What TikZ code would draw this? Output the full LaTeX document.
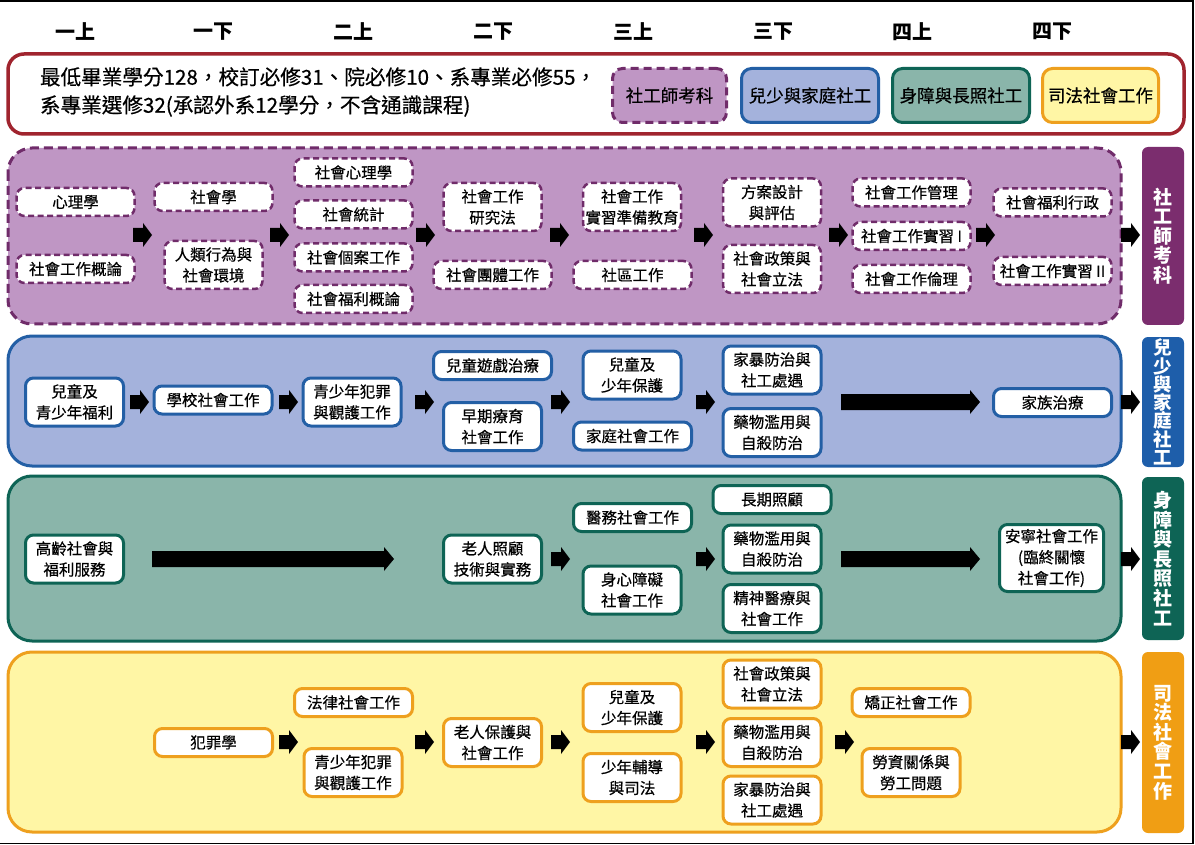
\documentclass[tikz,border=0pt]{standalone}
\usepackage{fontspec}
\setmainfont{Noto Sans CJK TC}
\newfontfamily\heavy{Noto Sans CJK TC}[FakeBold=0.5]
\definecolor{redb}{RGB}{160,36,46}
\definecolor{purb}{RGB}{112,44,106}
\definecolor{purf}{RGB}{191,150,196}
\definecolor{purbar}{RGB}{123,45,110}
\definecolor{blub}{RGB}{35,95,165}
\definecolor{bluf}{RGB}{164,178,220}
\definecolor{blubar}{RGB}{30,94,170}
\definecolor{grnb}{RGB}{14,100,85}
\definecolor{grnf}{RGB}{138,181,170}
\definecolor{yelb}{RGB}{238,160,30}
\definecolor{yelf}{RGB}{255,246,165}
\definecolor{yelbar}{RGB}{240,158,20}
\begin{document}
\begin{tikzpicture}[x=1pt,y=-1pt,
  every node/.style={inner sep=0pt,outer sep=0pt},
  nodetxt/.style={font=\heavy\fontsize{15.5}{21}\selectfont,align=center,text=black},
  cbox/.style={nodetxt,rounded corners=8pt,fill=white,line width=3pt},
  pbox/.style={cbox,draw=purb,line width=2.5pt,dash pattern=on 6pt off 3.5pt},
  bbox/.style={cbox,draw=blub},
  gbox/.style={cbox,draw=grnb},
  ybox/.style={cbox,draw=yelb},
  wd/.style={minimum width=118pt,minimum height=28pt},
  nr/.style={minimum width=98pt,minimum height=48pt},
  tri/.style={minimum width=104pt,minimum height=67pt},
  sem/.style={font=\fontsize{20}{24}\selectfont\bfseries},
  legbox/.style={font=\heavy\fontsize{17.5}{20}\selectfont,rounded corners=10pt,line width=3pt,minimum height=54pt},
  bar/.style={rounded corners=6pt,minimum width=42pt,text=white,align=center,font=\fontsize{19}{19.6}\selectfont\bfseries},
  band/.style={rounded corners=24pt,line width=3pt},
  sarr/.pic={\fill[black] (0,-7) -- (10,-7) -- (10,-12) -- (19,0) -- (10,12) -- (10,7) -- (0,7) -- cycle;},
  larr/.pic={\fill[black] (0,-8) -- ({#1-10},-8) -- ({#1-10},-12) -- (#1,0) -- ({#1-10},12) -- ({#1-10},8) -- (0,8) -- cycle;}
]
\useasboundingbox (0,0) rectangle (1195,845);
\fill[white] (0,0) rectangle (1195,845);
\draw[line width=1.5pt] (0,1) -- (1193,1) -- (1193,843.5) -- (0,843.5);

% semesters
\node[sem] (s1) at (75,32) {一上};
\node[sem] (s2) at (213,32) {一下};
\node[sem] (s3) at (353,32) {二上};
\node[sem] (s4) at (493,32) {二下};
\node[sem] (s5) at (633,32) {三上};
\node[sem] (s6) at (773,32) {三下};
\node[sem] (s7) at (912,32) {四上};
\node[sem] (s8) at (1052,32) {四下};

% requirement box
\draw[redb,line width=3.5pt,rounded corners=16pt] (8,54) rectangle (1184,134);
\node[anchor=west,align=left,font=\heavy\fontsize{20.6}{28}\selectfont] (req) at (40,92)
  {最低畢業學分128，校訂必修31、院必修10、系專業必修55，\\系專業選修32(承認外系12學分，不含通識課程)};
\node[legbox,fill=purf,draw=purb,dash pattern=on 8pt off 5pt,minimum width=114pt] (lg1) at (669.5,95.5) {社工師考科};
\node[legbox,fill=bluf,draw=blub,minimum width=137pt] (lg2) at (810,95.5) {兒少與家庭社工};
\node[legbox,fill=grnf,draw=grnb,minimum width=137pt] (lg3) at (961,95.5) {身障與長照社工};
\node[legbox,fill=yelf,draw=yelb,minimum width=116pt] (lg4) at (1100.5,95.5) {司法社會工作};

% ===== purple band =====
\draw[band,fill=purf,draw=purb,dash pattern=on 9pt off 5pt] (8,148) rectangle (1121,324);
\node[bar,fill=purbar,minimum height=178pt] (pbar) at (1163,236) {社\\工\\師\\考\\科};
\node[pbox,wd] (p11) at (75.5,202) {心理學};
\node[pbox,wd] (p12) at (75.5,269) {社會工作概論};
\node[pbox,wd] (p21) at (213.5,197) {社會學};
\node[pbox,nr] (p22) at (213.5,265) {人類行為與\\社會環境};
\node[pbox,wd] (p31) at (353.5,172.5) {社會心理學};
\node[pbox,wd] (p32) at (353.5,214.5) {社會統計};
\node[pbox,wd] (p33) at (353.5,257.5) {社會個案工作};
\node[pbox,wd] (p34) at (353.5,299) {社會福利概論};
\node[pbox,nr] (p41) at (492.5,207) {社會工作\\研究法};
\node[pbox,wd] (p42) at (492.5,275) {社會團體工作};
\node[pbox,nr] (p51) at (632,207) {社會工作\\實習準備教育};
\node[pbox,wd] (p52) at (632.5,275) {社區工作};
\node[pbox,nr] (p61) at (772,202.5) {方案設計\\與評估};
\node[pbox,nr] (p62) at (772,269) {社會政策與\\社會立法};
\node[pbox,wd] (p71) at (911.5,192.5) {社會工作管理};
\node[pbox,wd] (p72) at (911.5,236) {社會工作實習 I};
\node[pbox,wd] (p73) at (911.5,279) {社會工作倫理};
\node[pbox,wd] (p81) at (1052.5,202.5) {社會福利行政};
\node[pbox,wd] (p82) at (1052.5,271) {社會工作實習 II};
\foreach \x in {133,270,416,550,694,829,976,1121} \pic at (\x,235) {sarr};

% ===== blue band =====
\draw[band,fill=bluf,draw=blub] (8,336) rectangle (1121,466);
\node[bar,fill=blubar,minimum height=130pt,font=\fontsize{18.5}{18.3}\selectfont\bfseries] (bbar) at (1163,402) {兒\\少\\與\\家\\庭\\社\\工};
\node[bbox,nr] (b1) at (74.5,402) {兒童及\\青少年福利};
\node[bbox,wd] (b2) at (213,400) {學校社會工作};
\node[bbox,nr] (b3) at (352,402) {青少年犯罪\\與觀護工作};
\node[bbox,wd] (b41) at (492.5,365.5) {兒童遊戲治療};
\node[bbox,nr] (b42) at (492.5,426.5) {早期療育\\社會工作};
\node[bbox,nr] (b51) at (632,375) {兒童及\\少年保護};
\node[bbox,wd] (b52) at (632.5,436) {家庭社會工作};
\node[bbox,nr] (b61) at (772,370) {家暴防治與\\社工處遇};
\node[bbox,nr] (b62) at (772,432.5) {藥物濫用與\\自殺防治};
\node[bbox,wd] (b8) at (1052.5,402.5) {家族治療};
\foreach \x in {130,279,415,551,696,1121} \pic at (\x,402) {sarr};
\pic at (841,402) {larr=139};

% ===== green band =====
\draw[band,fill=grnf,draw=grnb] (8,476) rectangle (1121,641);
\node[bar,fill=grnb,minimum height=163pt] (gbar) at (1163,558.5) {身\\障\\與\\長\\照\\社\\工};
\node[gbox,nr] (g1) at (74.5,559) {高齡社會與\\福利服務};
\node[gbox,nr] (g4) at (492.5,559) {老人照顧\\技術與實務};
\node[gbox,wd] (g51) at (632.5,517.5) {醫務社會工作};
\node[gbox,nr] (g52) at (632,590) {身心障礙\\社會工作};
\node[gbox,wd] (g61) at (772,499.5) {長期照顧};
\node[gbox,nr] (g62) at (772,549) {藥物濫用與\\自殺防治};
\node[gbox,nr] (g63) at (772,608.5) {精神醫療與\\社會工作};
\node[gbox,tri] (g8) at (1051.5,558) {安寧社會工作\\(臨終關懷\\社會工作)};
\foreach \x in {551,696,1121} \pic at (\x,559) {sarr};
\pic at (152,559) {larr=242};
\pic at (841,559) {larr=139};

% ===== yellow band =====
\draw[band,fill=yelf,draw=yelb] (8,652) rectangle (1121,832);
\node[bar,fill=yelbar,minimum height=181pt] (ybar) at (1163,742.5) {司\\法\\社\\會\\工\\作};
\node[ybox,wd] (y2) at (213.5,742.5) {犯罪學};
\node[ybox,wd] (y31) at (353.5,702.5) {法律社會工作};
\node[ybox,nr] (y32) at (353,772.5) {青少年犯罪\\與觀護工作};
\node[ybox,nr] (y4) at (492.5,742.5) {老人保護與\\社會工作};
\node[ybox,nr] (y51) at (632,707.5) {兒童及\\少年保護};
\node[ybox,nr] (y52) at (632,777.5) {少年輔導\\與司法};
\node[ybox,nr] (y61) at (772,684) {社會政策與\\社會立法};
\node[ybox,nr] (y62) at (772,742.5) {藥物濫用與\\自殺防治};
\node[ybox,nr] (y63) at (772,800) {家暴防治與\\社工處遇};
\node[ybox,wd] (y71) at (911,702.5) {矯正社會工作};
\node[ybox,nr] (y72) at (911,772.5) {勞資關係與\\勞工問題};
\foreach \x in {279,415,551,696,835,1121} \pic at (\x,742) {sarr};
\end{tikzpicture}
\end{document}
